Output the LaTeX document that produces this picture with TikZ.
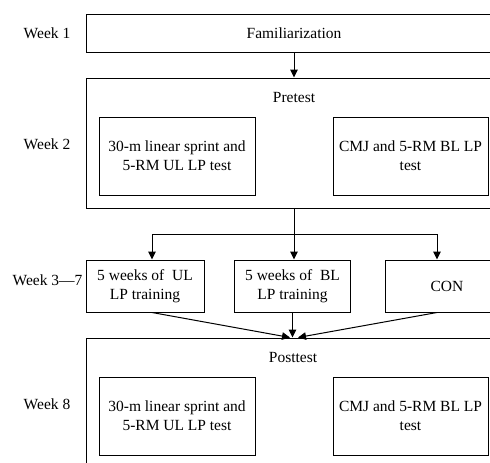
\documentclass[tikz,border=0pt]{standalone}
\usepackage{fontspec}
\setmainfont{Liberation Serif}
\usetikzlibrary{arrows.meta}
\begin{document}
\begin{tikzpicture}[x=1pt,y=-1pt,
  box/.style={draw,line width=1pt,inner sep=0pt,align=center,
    font=\fontsize{15.5}{19}\selectfont},
  lbl/.style={inner sep=0pt,font=\fontsize{15.5}{19}\selectfont},
  conn/.style={line width=1pt},
  arr/.style={line width=1pt,-{Triangle[length=8pt,width=7.5pt]}}]
\useasboundingbox (0,0) rectangle (490,463);
\clip (0,0) rectangle (490,463);
% big boxes
\node[box,minimum width=416pt,minimum height=38pt] (fam) at (294,33) {Familiarization};
\node[box,minimum width=416pt,minimum height=130pt] (pre) at (294,143) {};
\node[lbl] (pretxt) at (294,98) {Pretest};
\node[box,minimum width=156pt,minimum height=78pt] (pre1) at (177,156) {30-m linear sprint and\\5-RM UL LP test};
\node[box,minimum width=155pt,minimum height=78pt] (pre2) at (410.5,156) {CMJ and 5-RM BL LP\\test};
% training boxes
\node[box,minimum width=118pt,minimum height=52pt] (trA) at (145,286) {5 weeks of~~UL\\LP training};
\node[box,minimum width=116pt,minimum height=52pt] (trB) at (292.5,286) {5 weeks of~~BL\\LP training};
\node[box,minimum width=124pt,minimum height=52pt] (trC) at (447,286) {CON};
% posttest
\node[box,minimum width=416pt,minimum height=132pt] (post) at (294,404) {};
\node[lbl] (posttxt) at (293,357) {Posttest};
\node[box,minimum width=156pt,minimum height=78pt] (post1) at (177,416) {30-m linear sprint and\\5-RM UL LP test};
\node[box,minimum width=155pt,minimum height=78pt] (post2) at (410.5,416) {CMJ and 5-RM BL LP\\test};
% week labels
\node[lbl] (w1) at (47,33) {Week 1};
\node[lbl] (w2) at (47,144) {Week 2};
\node[lbl] (w3) at (47.5,280) {Week 3—7};
\node[lbl] (w8) at (47,404) {Week 8};
% connectors
\draw[arr] (fam.south) -- (pre.north);
\coordinate (split) at (294,234);
\draw[conn] (pre.south) -- (split);
\draw[arr] (split) -| ([xshift=7pt]trA.north);
\draw[arr] (split) -| ([xshift=-10pt]trC.north);
\draw[arr] (split) -- (split |- trB.north);
\draw[arr] ([xshift=7pt]trA.south) -- ([xshift=-4pt]post.north);
\draw[arr] (trB.south) -- (trB.south |- post.north);
\draw[arr] ([xshift=-10pt]trC.south) -- ([xshift=4pt]post.north);
\end{tikzpicture}
\end{document}
